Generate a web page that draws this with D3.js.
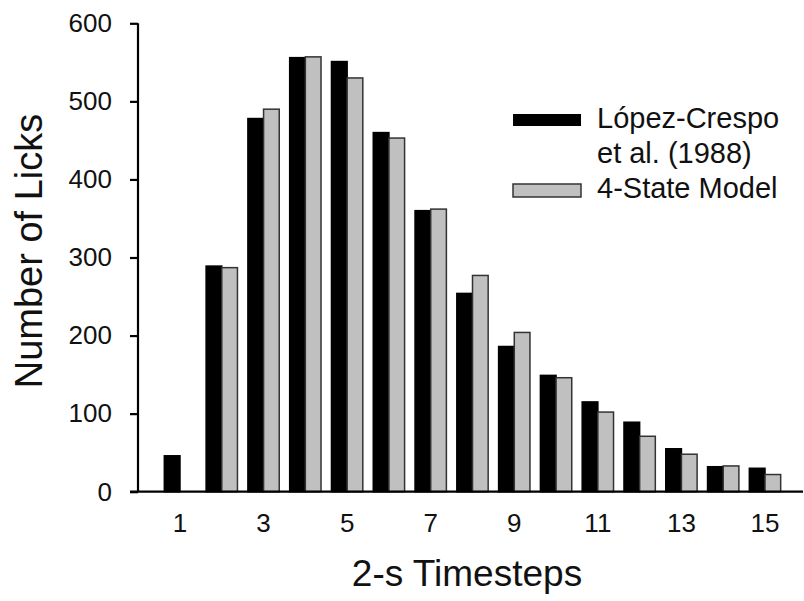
<!DOCTYPE html>
<html>
<head>
<meta charset="utf-8">
<script src="https://cdn.jsdelivr.net/npm/d3@7"></script>
<style>
  body { margin: 0; background: #fff; }
  svg { font-family: Arial, "Liberation Sans", sans-serif; }
</style>
</head>
<body>
<div id="chart"></div>
<script>
// data
var timesteps = [1, 2, 3, 4, 5, 6, 7, 8, 9, 10, 11, 12, 13, 14, 15];
var lopezCrespo = [46, 289, 478, 556, 551, 460, 360, 254, 186, 149, 115, 89, 55, 32, 30];
var fourState = [null, 287, 490, 557, 530, 453, 362, 277, 204, 146, 102, 71, 48, 33, 22];
var seriesNames = ['López-Crespo', '4-State Model'];
var xTickLabels = [1, 3, 5, 7, 9, 11, 13, 15];
var yTicks = [0, 100, 200, 300, 400, 500, 600];

var width = 804, height = 601;

var svg = d3.select('#chart').append('svg')
    .attr('width', width)
    .attr('height', height);

var x = d3.scaleBand()
    .domain(timesteps)
    .range([159.1, 785.9])
    .paddingInner(0.25)
    .paddingOuter(0.125);

var xSub = d3.scaleBand()
    .domain([0, 1])
    .range([0, x.bandwidth()]);

var y = d3.scaleLinear()
    .domain([0, 600])
    .range([491.7, 23.3]);

var axisX = 138;

// bars
var rows = timesteps.map(function(t, i) {
    return { t: t, vals: [lopezCrespo[i], fourState[i]] };
});

var groups = svg.append('g').selectAll('g')
    .data(rows)
    .enter().append('g')
    .attr('transform', function(d) { return 'translate(' + x(d.t) + ',0)'; });

groups.selectAll('rect')
    .data(function(d) {
        return d.vals.map(function(v, k) { return { k: k, v: v }; })
            .filter(function(e) { return e.v != null; });
    })
    .enter().append('rect')
    .attr('x', function(d) { return xSub(d.k); })
    .attr('width', xSub.bandwidth())
    .attr('y', function(d) { return y(d.v); })
    .attr('height', function(d) { return y(0) - y(d.v); })
    .attr('fill', function(d) { return d.k === 0 ? '#000' : '#c0c0c0'; })
    .attr('stroke', function(d) { return d.k === 0 ? '#000' : '#333'; })
    .attr('stroke-width', 1.5);

// y axis
var yAxis = svg.append('g')
    .attr('transform', 'translate(' + axisX + ',0)')
    .call(d3.axisLeft(y).tickValues(yTicks).tickSize(8).tickPadding(18));
yAxis.select('.domain').attr('stroke-width', 2.2).attr('d', 'M0,' + y(600) + 'V' + y(0));
yAxis.selectAll('.tick line').attr('stroke-width', 2.2);
yAxis.selectAll('.tick text')
    .style('font-size', '26px')
    .style('font-family', 'Arial, "Liberation Sans", sans-serif')
    .attr('fill', '#111');

// x axis line
svg.append('line')
    .attr('x1', 130).attr('x2', 803)
    .attr('y1', y(0)).attr('y2', y(0))
    .attr('stroke', '#000').attr('stroke-width', 2.2);

// x tick labels
svg.append('g').selectAll('text')
    .data(xTickLabels)
    .enter().append('text')
    .attr('x', function(d) { return x(d) + x.bandwidth() / 2; })
    .attr('y', 532)
    .attr('text-anchor', 'middle')
    .style('font-size', '26px')
    .attr('fill', '#111')
    .text(function(d) { return d; });

// axis titles
svg.append('text')
    .attr('x', 467)
    .attr('y', 586)
    .attr('text-anchor', 'middle')
    .style('font-size', '37px')
    .attr('fill', '#111')
    .text('2-s Timesteps');

svg.append('text')
    .attr('transform', 'translate(42,251) rotate(-90)')
    .attr('text-anchor', 'middle')
    .style('font-size', '38px')
    .attr('fill', '#111')
    .text('Number of Licks');

// legend
var legend = svg.append('g');
legend.append('rect')
    .attr('x', 513).attr('y', 114).attr('width', 68).attr('height', 12)
    .attr('fill', '#000');
legend.append('rect')
    .attr('x', 513).attr('y', 184).attr('width', 68).attr('height', 13)
    .attr('fill', '#c0c0c0').attr('stroke', '#333').attr('stroke-width', 1.5);
legend.append('text')
    .attr('x', 597).attr('y', 128)
    .style('font-size', '29px').attr('fill', '#111')
    .text(seriesNames[0]);
legend.append('text')
    .attr('x', 597).attr('y', 163)
    .style('font-size', '29px').attr('fill', '#111')
    .text('et al. (1988)');
legend.append('text')
    .attr('x', 597).attr('y', 198)
    .style('font-size', '29px').attr('fill', '#111')
    .text(seriesNames[1]);
</script>
</body>
</html>
